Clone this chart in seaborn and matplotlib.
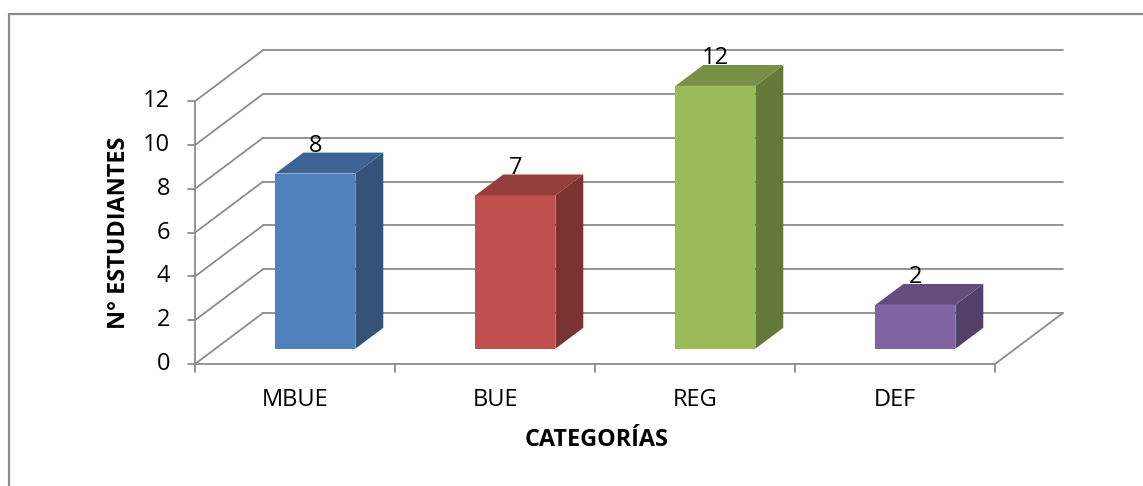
import numpy as np
import matplotlib
matplotlib.use("Agg")
import matplotlib.pyplot as plt
import matplotlib.colors as mcolors
from matplotlib.patches import Polygon
from matplotlib.lines import Line2D
import seaborn as sns

# Data
categories = ["MBUE", "BUE", "REG", "DEF"]
values = [8, 7, 12, 2]
bar_colors = ["#4F81BD", "#C0504D", "#9BBB59", "#8064A2"]
y_ticks = [0, 2, 4, 6, 8, 10, 12]

sns.set_theme(style="white")
plt.rcParams["font.family"] = ["Open Sans", "DejaVu Sans"]

W, H = 1143, 486
fig = plt.figure(figsize=(W / 100, H / 100), dpi=100)
ax = fig.add_axes([0, 0, 1, 1])

# Oblique projection: one category = 200 px, one unit = 21.9 px
px_cat, px_val = 200.0, 21.9
x0_px, y0_px = 295.0, 364.0
DX = 68 / px_cat          # full floor depth, horizontal (category units)
DY = 51 / px_val          # full floor depth, vertical (value units)
F0, FD = 0.30, 0.41       # bar front position and bar thickness (fraction of depth)
BAR_W = 0.4
FS = 17
FS_B = 16.8

sns.barplot(x=categories, y=values, hue=categories, palette=bar_colors, width=BAR_W,
            legend=False, ax=ax, saturation=1, linewidth=0, zorder=5)

n = len(categories)
grid_c = "#8c8c8c"
glw = 1.3
ymax = y_ticks[-1]

# Back wall gridlines and left wall diagonals
for v in y_ticks:
    ax.plot([-0.5 + DX, n - 0.5 + DX], [v + DY, v + DY], color=grid_c, lw=glw, zorder=1)
    ax.plot([-0.5, -0.5 + DX], [v, v], color=grid_c, lw=0, zorder=1)
    ax.plot([-0.5, -0.5 + DX], [v, v + DY], color=grid_c, lw=glw, zorder=1)
    ax.plot([-0.5 - 0.035, -0.5], [v, v], color=grid_c, lw=glw, zorder=1)
    ax.text(-0.625, v, str(v), ha="right", va="center", fontsize=FS, color="black")

# Front axis lines and floor
ax.plot([-0.5, -0.5], [0, ymax], color=grid_c, lw=glw, zorder=1)
ax.plot([-0.5, n - 0.5], [0, 0], color=grid_c, lw=glw, zorder=1)
ax.plot([n - 0.5, n - 0.5 + DX], [0, DY], color=grid_c, lw=glw, zorder=1)
for k in range(n + 1):
    ax.plot([k - 0.5, k - 0.5], [0, -0.37], color=grid_c, lw=glw, zorder=1)

# Shift the bar fronts into the depth and add side and top faces
for patch, v, c in zip(ax.patches, values, bar_colors):
    x_left = patch.get_x() + F0 * DX
    bottom = F0 * DY
    patch.set_x(x_left)
    patch.set_y(bottom)
    x_right = x_left + patch.get_width()
    top = bottom + patch.get_height()
    dx, dy = FD * DX, FD * DY
    rgb = np.array(mcolors.to_rgb(c))
    side = Polygon([(x_right, bottom), (x_right, top), (x_right + dx, top + dy),
                    (x_right + dx, bottom + dy)], closed=True,
                   facecolor=rgb * 0.64, edgecolor="none", zorder=5)
    cap = Polygon([(x_left, top), (x_right, top), (x_right + dx, top + dy),
                   (x_left + dx, top + dy)], closed=True,
                  facecolor=rgb * 0.77, edgecolor="none", zorder=5)
    ax.add_patch(side)
    ax.add_patch(cap)
    ax.text(x_left + patch.get_width() / 2, top + dy + 0.3, f"{v}",
            ha="center", va="center", fontsize=FS, color="black", zorder=6)

# Category labels and axis titles
for i, cat in enumerate(categories):
    ax.text(i, -1.64, cat, ha="center", va="center", fontsize=FS, color="black")
ax.text((597 - x0_px) / px_cat, (y0_px - 440) / px_val, "CATEGORÍAS",
        ha="center", va="center", fontsize=FS_B, fontweight="bold", color="black")
ax.text((119 - x0_px) / px_cat, (y0_px - 233) / px_val, "N° ESTUDIANTES",
        ha="center", va="center", rotation=90, fontsize=FS_B, fontweight="bold", color="black")

# Map data space to the pixel grid
ax.set_xlim((0 - x0_px) / px_cat, (W - x0_px) / px_cat)
ax.set_ylim((y0_px - H) / px_val, y0_px / px_val)
ax.axis("off")

# Chart frame
fx, fy = 9 / W, 1 - 14 / H
fig.add_artist(Line2D([fx, fx], [0, fy], color="#8a8a8a", lw=1.6, transform=fig.transFigure))
fig.add_artist(Line2D([fx, 1], [fy, fy], color="#8a8a8a", lw=1.6, transform=fig.transFigure))

fig.savefig("out.png", dpi=100)
